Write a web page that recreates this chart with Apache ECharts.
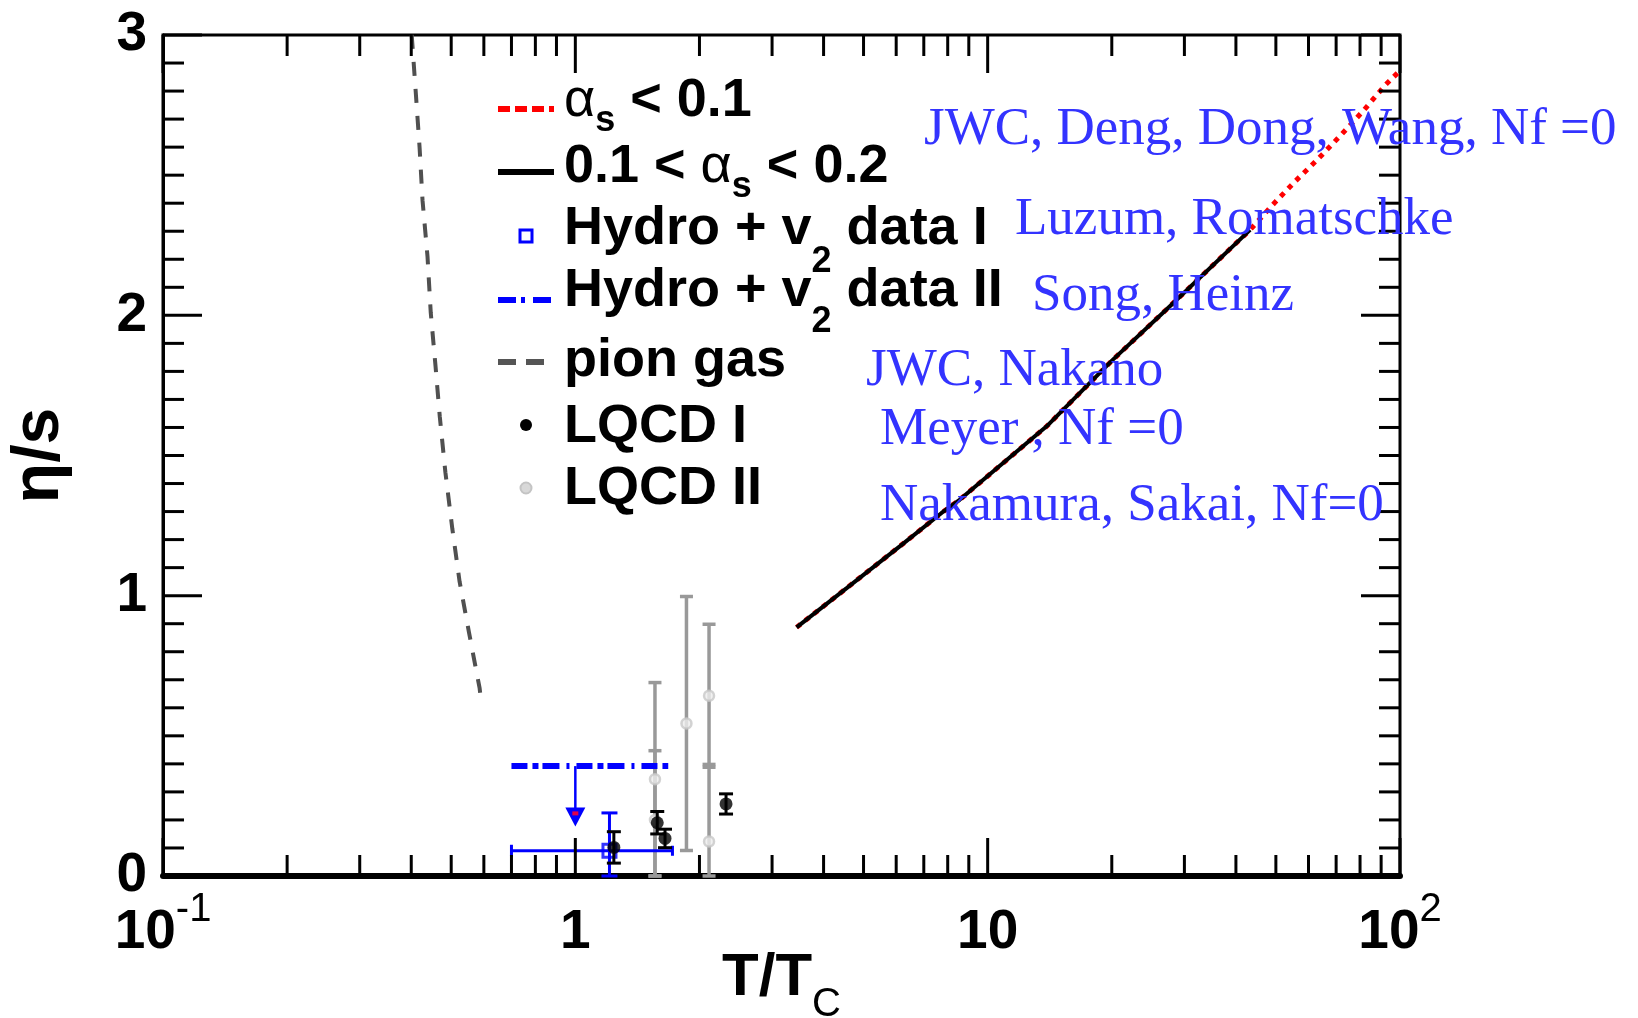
<!DOCTYPE html>
<html>
<head>
<meta charset="utf-8">
<script src="https://cdn.jsdelivr.net/npm/echarts@6/dist/echarts.min.js"></script>
<style>
  html, body { margin: 0; padding: 0; background: #ffffff; }
  #chart { width: 1638px; height: 1018px; }
</style>
</head>
<body>
<div id="chart"></div>
<script>
// ---------- data ----------
// axis ticks (T/Tc on a log scale, eta/s linear)
const xTickValues = [0.1, 1, 10, 100];
const xTickBase = ['10', '1', '10', '10'];
const xTickExp = ['-1', '', '', '2'];
const xMinorTicks = [0.2, 0.3, 0.4, 0.5, 0.6, 0.7, 0.8, 0.9,
                     2, 3, 4, 5, 6, 7, 8, 9,
                     20, 30, 40, 50, 60, 70, 80, 90];
const yTickValues = [0, 1, 2, 3];
const yMinorTicks = [0.1, 0.2, 0.3, 0.4, 0.5, 0.6, 0.7, 0.8, 0.9,
                     1.1, 1.2, 1.3, 1.4, 1.5, 1.6, 1.7, 1.8, 1.9,
                     2.1, 2.2, 2.3, 2.4, 2.5, 2.6, 2.7, 2.8, 2.9];

// pion gas
const pionT = [0.401, 0.410, 0.419, 0.426, 0.438, 0.446, 0.458, 0.469, 0.484, 0.503, 0.524, 0.552, 0.586, 0.589];
const pionEta = [3.00, 2.80, 2.60, 2.41, 2.21, 2.01, 1.82, 1.64, 1.44, 1.24, 1.05, 0.87, 0.67, 0.64];

// weak-coupling QGP result; solid where 0.1 < alpha_s < 0.2
const qgpT = [3.44, 4.55, 6.12, 7.73, 8.55, 13.9, 20.1, 27.1, 43.3, 49.1, 55.6, 63.2, 71.9, 81.4, 92.2, 100];
const qgpEta = [0.887, 1.027, 1.176, 1.295, 1.342, 1.604, 1.841, 2.020, 2.305, 2.394, 2.477, 2.557, 2.643, 2.729, 2.822, 2.873];
const alphaSplitT = 43.3;

// Hydro + v2 data I (point with x and y error bars)
const hydro1T = [1.21];
const hydro1Eta = [0.09];
const hydro1TLow = [0.70];
const hydro1THigh = [1.72];
const hydro1EtaLow = [0.0];
const hydro1EtaHigh = [0.225];

// Hydro + v2 data II (upper bound over a T range, with arrow)
const hydro2TRange = [0.70, 1.68];
const hydro2Upper = 0.392;
const hydro2ArrowT = 1.0;
const hydro2ArrowTip = 0.177;

// LQCD I
const lqcd1T = [1.24, 1.58, 1.65, 2.32];
const lqcd1Eta = [0.102, 0.19, 0.134, 0.257];
const lqcd1Err = [0.056, 0.04, 0.033, 0.036];

// LQCD II
const lqcd2T = [1.56, 1.56, 1.86, 2.11, 2.11];
const lqcd2Eta = [0.345, 0.20, 0.544, 0.643, 0.123];
const lqcd2Err = [0.345, 0.247, 0.453, 0.255, 0.275];

// legend entries (text fragments: [text, style])
const legendEntries = [
  [['\u03b1', 'greek'], ['s', 'subS'], [' < 0.1', 'main']],
  [['0.1 < ', 'main'], ['\u03b1', 'greek'], ['s', 'subS'], [' < 0.2', 'main']],
  [['Hydro + v', 'main'], ['2', 'sub2'], [' data I', 'main']],
  [['Hydro + v', 'main'], ['2', 'sub2b'], [' data II', 'main']],
  [['pion gas', 'main']],
  [['LQCD I', 'main']],
  [['LQCD II', 'main']]
];

// source annotations
const annotationTexts = [
  'JWC, Deng, Dong, Wang, Nf =0',
  'Luzum, Romatschke',
  'Song, Heinz',
  'JWC, Nakano',
  'Meyer , Nf =0',
  'Nakamura, Sakai, Nf=0'
];

// ---------- layout / styling ----------
const SANS = '"Liberation Sans", Arial, Helvetica, sans-serif';
const SERIF = '"Liberation Serif", "Times New Roman", Times, serif';
const annotationLayout = [[924, 146], [1015, 236], [1032, 312], [866, 387], [880, 446], [880, 522]];
const legendTextX = 564;
const legendBaselines = [117, 183, 245, 307, 377, 443, 505];
const fragStyle = {
  main:  { size: 54, weight: 'bold', dy: 0 },
  greek: { size: 54, weight: 'normal', dy: 0 },
  subS:  { size: 36, weight: 'bold', dy: 15 },
  sub2:  { size: 36, weight: 'bold', dy: 28 },
  sub2b: { size: 36, weight: 'bold', dy: 26 }
};

const X_MIN = 0.1, X_MAX = 100, Y_MIN = 0, Y_MAX = 3;

const measureCtx = document.createElement('canvas').getContext('2d');
function textWidth(str, size, weight, family) {
  measureCtx.font = weight + ' ' + size + 'px ' + family;
  return measureCtx.measureText(str).width;
}

function textEl(str, x, baseline, size, weight, family, fill) {
  // place by alphabetic baseline; text is drawn centred on its em box
  return {
    type: 'text', x: x, y: baseline - 0.30 * size, silent: true, z: 50,
    style: {
      text: str, fontSize: size, fontWeight: weight, fontFamily: family, fill: fill,
      align: 'left', verticalAlign: 'middle', textAlign: 'left', textVerticalAlign: 'middle'
    }
  };
}

function lineEl(x1, y1, x2, y2, color, width, dash) {
  return {
    type: 'line', silent: true, z: 50,
    shape: { x1: x1, y1: y1, x2: x2, y2: y2 },
    style: { stroke: color, lineWidth: width, lineDash: dash || null }
  };
}

const graphics = [];

// legend texts
legendEntries.forEach(function (frags, i) {
  let x = legendTextX;
  frags.forEach(function (f) {
    const st = fragStyle[f[1]];
    graphics.push(textEl(f[0], x, legendBaselines[i] + st.dy, st.size, st.weight, SANS, '#000'));
    x += textWidth(f[0], st.size, st.weight, SANS);
  });
});

// legend samples
graphics.push(lineEl(498, 109, 554, 109, '#ff0000', 6, [12, 5]));
graphics.push(lineEl(498, 172, 554, 172, '#000000', 6));
graphics.push({ type: 'rect', silent: true, z: 50, shape: { x: 520, y: 230, width: 12, height: 12 },
  style: { fill: 'none', stroke: '#0000ff', lineWidth: 3 } });
graphics.push(lineEl(498, 300, 552, 300, '#0000ff', 6, [18, 5, 4, 8, 18]));
graphics.push(lineEl(498, 362, 544, 362, '#555555', 6, [18, 10]));
graphics.push({ type: 'circle', silent: true, z: 50, shape: { cx: 526, cy: 425, r: 6 },
  style: { fill: '#000' } });
graphics.push({ type: 'circle', silent: true, z: 50, shape: { cx: 526, cy: 488, r: 5.5 },
  style: { fill: '#d8d8d8', stroke: '#c4c4c4', lineWidth: 2 } });

// source annotations
annotationTexts.forEach(function (t, i) {
  graphics.push(textEl(t, annotationLayout[i][0], annotationLayout[i][1], 53, 'normal', SERIF, '#3333ff'));
});

// ---------- series data ----------
const pionData = pionT.map(function (t, i) { return [t, pionEta[i]]; });
const qgpData = qgpT.map(function (t, i) { return [t, qgpEta[i]]; });
const qgpSolid = qgpData.filter(function (d) { return d[0] <= alphaSplitT; });
const lqcd1Data = lqcd1T.map(function (t, i) { return [t, lqcd1Eta[i], lqcd1Eta[i] - lqcd1Err[i], lqcd1Eta[i] + lqcd1Err[i]]; });
const lqcd2Data = lqcd2T.map(function (t, i) { return [t, lqcd2Eta[i], lqcd2Eta[i] - lqcd2Err[i], lqcd2Eta[i] + lqcd2Err[i]]; });
const hydro1Data = hydro1T.map(function (t, i) {
  return [t, hydro1Eta[i], hydro1TLow[i], hydro1THigh[i], hydro1EtaLow[i], hydro1EtaHigh[i]];
});
const xTickData = xTickValues.map(function (v) { return [v, 0, 1]; })
  .concat(xMinorTicks.map(function (v) { return [v, 0, 0]; }));
const yTickData = yTickValues.map(function (v) { return [1, v, 1]; })
  .concat(yMinorTicks.map(function (v) { return [1, v, 0]; }));

// ---------- renderers ----------
function vErrRenderer(color, width, capHalf) {
  return function (params, api) {
    const x = api.value(0);
    const lo = Math.max(api.value(2), Y_MIN);
    const hi = api.value(3);
    const a = api.coord([x, lo]), b = api.coord([x, hi]);
    const st = { stroke: color, lineWidth: width };
    return { type: 'group', children: [
      { type: 'line', shape: { x1: a[0], y1: a[1], x2: b[0], y2: b[1] }, style: st },
      { type: 'line', shape: { x1: a[0] - capHalf, y1: a[1], x2: a[0] + capHalf, y2: a[1] }, style: st },
      { type: 'line', shape: { x1: b[0] - capHalf, y1: b[1], x2: b[0] + capHalf, y2: b[1] }, style: st }
    ] };
  };
}

function hydro1Renderer(params, api) {
  const t = api.value(0), eta = api.value(1);
  const l = api.coord([api.value(2), eta]), r = api.coord([api.value(3), eta]);
  const lo = api.coord([t, Math.max(api.value(4), Y_MIN)]), hi = api.coord([t, api.value(5)]);
  const st = { stroke: '#0000ff', lineWidth: 3 };
  return { type: 'group', children: [
    { type: 'line', shape: { x1: l[0], y1: l[1], x2: r[0], y2: r[1] }, style: st },
    { type: 'line', shape: { x1: l[0], y1: l[1] - 6, x2: l[0], y2: l[1] + 6 }, style: st },
    { type: 'line', shape: { x1: r[0], y1: r[1] - 5, x2: r[0], y2: r[1] + 5 }, style: st },
    { type: 'line', shape: { x1: lo[0], y1: lo[1], x2: hi[0], y2: hi[1] }, style: st },
    { type: 'line', shape: { x1: lo[0] - 8, y1: lo[1], x2: lo[0] + 8, y2: lo[1] }, style: st },
    { type: 'line', shape: { x1: hi[0] - 8, y1: hi[1], x2: hi[0] + 8, y2: hi[1] }, style: st }
  ] };
}

function arrowRenderer(params, api) {
  const top = api.coord([api.value(0), api.value(1)]);
  const tip = api.coord([api.value(0), api.value(2)]);
  const h = 19, w = 10;
  return { type: 'group', children: [
    { type: 'line', shape: { x1: top[0], y1: top[1], x2: tip[0], y2: tip[1] - h + 2 },
      style: { stroke: '#0000ff', lineWidth: 2.5 } },
    { type: 'polygon', shape: { points: [[tip[0] - w, tip[1] - h], [tip[0] + w, tip[1] - h], [tip[0], tip[1]]] },
      style: { fill: '#0000ff' } },
    { type: 'rect', shape: { x: tip[0] - 3, y: tip[1] - h + 4, width: 6, height: 4 },
      style: { fill: '#e0004a' } }
  ] };
}

function xTickRenderer(params, api) {
  const v = api.value(0), len = api.value(2) ? 38 : 21;
  const b = api.coord([v, Y_MIN]), t = api.coord([v, Y_MAX]);
  const st = { stroke: '#000', lineWidth: 3 };
  return { type: 'group', children: [
    { type: 'line', shape: { x1: b[0], y1: b[1], x2: b[0], y2: b[1] - len }, style: st },
    { type: 'line', shape: { x1: t[0], y1: t[1], x2: t[0], y2: t[1] + len }, style: st }
  ] };
}

function yTickRenderer(params, api) {
  const v = api.value(1), len = api.value(2) ? 39 : 21;
  const l = api.coord([X_MIN, v]), r = api.coord([X_MAX, v]);
  const st = { stroke: '#000', lineWidth: 3 };
  return { type: 'group', children: [
    { type: 'line', shape: { x1: l[0], y1: l[1], x2: l[0] + len, y2: l[1] }, style: st },
    { type: 'line', shape: { x1: r[0], y1: r[1], x2: r[0] - len, y2: r[1] }, style: st }
  ] };
}

// ---------- chart ----------
const chart = echarts.init(document.getElementById('chart'), null, { renderer: 'canvas' });

chart.setOption({
  animation: false,
  backgroundColor: '#ffffff',
  grid: {
    left: 163, right: 238, top: 35, bottom: 142,
    show: true, borderColor: '#000', borderWidth: 3, backgroundColor: 'transparent',
    containLabel: false, outerBoundsMode: 'none'
  },
  xAxis: {
    type: 'log', logBase: 10, min: X_MIN, max: X_MAX,
    axisLine: { show: true, lineStyle: { color: '#000', width: 6 } },
    axisTick: { show: false },
    minorTick: { show: false },
    splitLine: { show: false },
    axisLabel: {
      margin: 7, hideOverlap: false, showMinLabel: true, showMaxLabel: true,
      formatter: function (val) {
        const idx = xTickValues.findIndex(function (v) { return Math.abs(Math.log10(v) - Math.log10(val)) < 1e-6; });
        if (idx < 0) return '';
        return xTickExp[idx] ? '{m|' + xTickBase[idx] + '}{e|' + xTickExp[idx] + '}' : '{m|' + xTickBase[idx] + '}';
      },
      rich: {
        m: { fontSize: 55, fontWeight: 'bold', fontFamily: SANS, color: '#000',
             height: 100, lineHeight: 100, verticalAlign: 'bottom' },
        e: { fontSize: 40, fontWeight: 'normal', fontFamily: SANS, color: '#000',
             height: 54, lineHeight: 54, verticalAlign: 'top' }
      }
    },
    name: '{m|T/T}{s|C}',
    nameLocation: 'middle',
    nameGap: 72,
    nameMoveOverlap: false,
    nameTextStyle: {
      rich: {
        m: { fontSize: 60, fontWeight: 'bold', fontFamily: SANS, color: '#000',
             height: 60, lineHeight: 60, verticalAlign: 'top' },
        s: { fontSize: 40, fontWeight: 'normal', fontFamily: SANS, color: '#000',
             height: 114, lineHeight: 114, verticalAlign: 'top' }
      }
    }
  },
  yAxis: {
    type: 'value', min: Y_MIN, max: Y_MAX, interval: 1,
    axisLine: { show: true, lineStyle: { color: '#000', width: 3 } },
    axisTick: { show: false },
    splitLine: { show: false },
    axisLabel: {
      margin: 16, fontSize: 55, fontWeight: 'bold', fontFamily: SANS, color: '#000',
      formatter: function (v) { return yTickValues.indexOf(v) >= 0 ? String(v) : ''; }
    },
    name: '\u03b7/s',
    nameLocation: 'middle',
    nameGap: 90,
    nameRotate: 90,
    nameMoveOverlap: false,
    nameTextStyle: { fontSize: 66, fontWeight: 'bold', fontFamily: SANS, color: '#000' }
  },
  series: [
    {
      name: 'pion gas', type: 'line', data: pionData, showSymbol: false, z: 3,
      lineStyle: { color: '#505050', width: 4, type: [14, 13] }
    },
    {
      name: 'alpha_s < 0.1', type: 'line', data: qgpData, showSymbol: false, z: 3,
      lineStyle: { color: '#ff0000', width: 5, type: [5, 6] }
    },
    {
      name: '0.1 < alpha_s < 0.2', type: 'line', data: qgpSolid, showSymbol: false, z: 4,
      lineStyle: { color: '#000000', width: 4 }
    },
    {
      name: 'LQCD II bars', type: 'custom', data: lqcd2Data, z: 5,
      renderItem: vErrRenderer('#999999', 3.5, 6.5)
    },
    {
      name: 'LQCD II', type: 'scatter', data: lqcd2Data.map(function (d) { return [d[0], d[1]]; }), z: 6,
      symbol: 'circle', symbolSize: 10,
      itemStyle: { color: '#eeeeee', borderColor: '#c8c8c8', borderWidth: 2.5 }
    },
    {
      name: 'Hydro + v2 data II', type: 'line', z: 7, showSymbol: false,
      data: [[hydro2TRange[0], hydro2Upper], [hydro2TRange[1], hydro2Upper]],
      lineStyle: { color: '#0000ff', width: 6, type: [16, 5, 6, 4, 17, 7, 3, 7] }
    },
    {
      name: 'Hydro II arrow', type: 'custom', z: 7,
      data: [[hydro2ArrowT, hydro2Upper, hydro2ArrowTip]],
      renderItem: arrowRenderer
    },
    {
      name: 'Hydro I bars', type: 'custom', data: hydro1Data, z: 8,
      renderItem: hydro1Renderer
    },
    {
      name: 'Hydro + v2 data I', type: 'scatter', z: 9,
      data: hydro1Data.map(function (d) { return [d[0], d[1]]; }),
      symbol: 'rect', symbolSize: 13,
      itemStyle: { color: 'rgba(0,0,0,0)', borderColor: '#0000ff', borderWidth: 3 }
    },
    {
      name: 'LQCD I bars', type: 'custom', data: lqcd1Data, z: 10,
      renderItem: vErrRenderer('#000000', 3, 7)
    },
    {
      name: 'LQCD I', type: 'scatter', z: 11,
      data: lqcd1Data.map(function (d) { return [d[0], d[1]]; }),
      symbol: 'circle', symbolSize: 13, itemStyle: { color: '#000000' }
    },
    { name: 'x ticks', type: 'custom', data: xTickData, z: 20, renderItem: xTickRenderer, silent: true },
    { name: 'y ticks', type: 'custom', data: yTickData, z: 20, renderItem: yTickRenderer, silent: true }
  ],
  graphic: graphics
});
</script>
</body>
</html>
